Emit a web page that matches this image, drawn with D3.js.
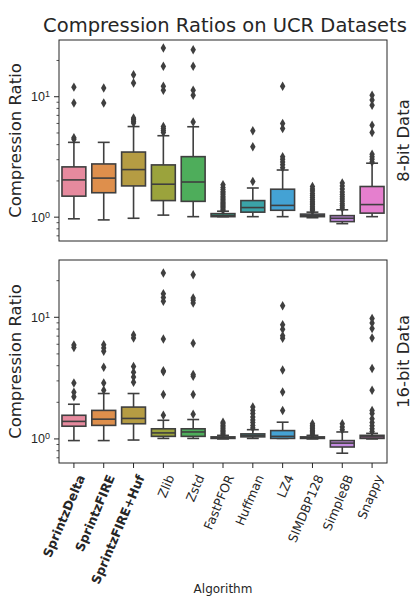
<!DOCTYPE html>
<html>
<head>
<meta charset="utf-8">
<script src="https://cdn.jsdelivr.net/npm/d3@7"></script>
<style>
  body { margin: 0; background: #fff; }
  svg { font-family: "DejaVu Sans", sans-serif; }
</style>
</head>
<body>
<svg id="chart" width="417" height="597"></svg>
<script>
var algorithms = ["SprintzDelta", "SprintzFIRE", "SprintzFIRE+Huf", "Zlib", "Zstd", "FastPFOR",
                  "Huffman", "LZ4", "SIMDBP128", "Simple8B", "Snappy"];
var boldAlgos = ["SprintzDelta", "SprintzFIRE", "SprintzFIRE+Huf"];
var colors = ["#e68a9e", "#de8f4c", "#b59c43", "#9ba33c", "#4ead5b", "#3ca489",
              "#3ba3a7", "#44a2d4", "#8fa0e3", "#c38ae0", "#e57fce"];

// [whisker low, q1, median, q3, whisker high]
var stats8 = [
  [0.96, 1.48, 2.02, 2.59, 4.14],
  [0.94, 1.58, 2.09, 2.74, 4.14],
  [0.97, 1.80, 2.46, 3.44, 5.6],
  [1.03, 1.36, 1.86, 2.69, 4.7],
  [1.0, 1.34, 1.94, 3.15, 5.58],
  [1.0, 1.0, 1.02, 1.06, 1.11],
  [1.0, 1.09, 1.19, 1.36, 1.73],
  [1.0, 1.13, 1.24, 1.69, 2.44],
  [0.98, 1.0, 1.02, 1.05, 1.09],
  [0.875, 0.91, 0.97, 1.02, 1.14],
  [1.0, 1.07, 1.26, 1.78, 2.78]
];
var outliers8 = [
  [4.4, 4.52, 8.8, 11.9],
  [8.8, 11.7],
  [6.0, 6.2, 6.4, 6.6, 12.9, 15.1],
  [5.0, 5.2, 5.4, 5.6, 11.2, 12.1, 17.7, 25.2],
  [6.1, 10.2, 11.2, 17.7, 24.3],
  [1.13, 1.16, 1.19, 1.22, 1.25, 1.28, 1.31, 1.35, 1.39, 1.43, 1.47, 1.52, 1.57, 1.62, 1.68, 1.75, 1.84],
  [1.96, 3.81, 5.17],
  [2.55, 2.7, 2.85, 3.0, 3.15, 5.4, 5.95, 12.1],
  [1.12, 1.15, 1.18, 1.22, 1.26, 1.3, 1.34, 1.39, 1.44, 1.5, 1.56, 1.63, 1.7, 1.78],
  [1.18, 1.23, 1.28, 1.34, 1.4, 1.46, 1.53, 1.6, 1.7, 1.8, 1.9],
  [2.85, 3.0, 3.15, 3.3, 5.0, 5.75, 8.4, 9.3, 10.2]
];

var stats16 = [
  [0.96, 1.26, 1.38, 1.55, 1.91],
  [0.96, 1.28, 1.44, 1.70, 2.34],
  [0.97, 1.32, 1.46, 1.81, 2.34],
  [1.0, 1.04, 1.11, 1.20, 1.41],
  [1.0, 1.04, 1.13, 1.20, 1.43],
  [0.99, 1.0, 1.01, 1.03, 1.06],
  [1.0, 1.03, 1.06, 1.09, 1.18],
  [1.0, 1.0, 1.04, 1.16, 1.36],
  [0.99, 1.0, 1.01, 1.03, 1.06],
  [0.756, 0.85, 0.915, 0.96, 1.13],
  [0.99, 1.0, 1.03, 1.06, 1.1]
];
var outliers16 = [
  [2.2, 2.4, 2.86, 5.6, 5.87],
  [2.49, 2.86, 3.84, 5.2, 5.55, 5.9],
  [2.9, 3.2, 3.5, 3.9, 6.7, 7.1],
  [1.55, 2.3, 3.53, 3.6, 6.58, 13.4, 14.4, 15.5, 22.9],
  [1.58, 2.3, 3.25, 3.35, 6.06, 13.0, 13.7, 14.3, 22.2],
  [1.08, 1.11, 1.14, 1.17, 1.2, 1.24, 1.28, 1.32, 1.36],
  [1.22, 1.28, 1.35, 1.42, 1.5, 1.6, 1.7, 1.81],
  [1.70, 2.41, 3.65, 6.67, 7.0, 7.9, 8.6, 12.3],
  [1.08, 1.11, 1.14, 1.17, 1.2, 1.24, 1.28, 1.32],
  [1.18, 1.24, 1.32],
  [1.14, 1.2, 1.27, 1.35, 1.45, 1.6, 1.7, 2.49, 3.75, 6.7, 8.0, 8.9, 9.7]
];

var panels = [
  {label: "8-bit Data", stats: stats8, outliers: outliers8, top: 40, bottom: 241},
  {label: "16-bit Data", stats: stats16, outliers: outliers16, top: 260, bottom: 463}
];

var svg = d3.select("#chart"),
    left = 59, right = 387,
    ink = "#262626", boxLine = "#3f3f3f";

var x = d3.scaleBand().domain(algorithms).range([left, right]).paddingInner(0).paddingOuter(0);
var boxW = x.bandwidth() * 0.8;

svg.append("text")
  .attr("x", (left + right) / 2 + 2).attr("y", 32)
  .attr("text-anchor", "middle")
  .attr("font-size", 19.5).attr("fill", ink)
  .text("Compression Ratios on UCR Datasets");

var diamond = d3.symbol().type(d3.symbolDiamond).size(26);

panels.forEach(function(p, pi) {
  var y = d3.scaleLog().domain([0.628, 29.3]).range([p.bottom, p.top]);
  var g = svg.append("g");

  // minor ticks
  var minor = [0.7, 0.8, 0.9, 2, 3, 4, 5, 6, 7, 8, 9, 20];
  g.append("g")
    .attr("transform", "translate(" + left + ",0)")
    .call(d3.axisLeft(y).tickValues(minor).tickSize(2.5).tickFormat(""))
    .call(function(a) { a.select(".domain").remove(); a.selectAll("line").attr("stroke", ink).attr("stroke-width", 0.8); });

  // major ticks
  var yAxis = g.append("g")
    .attr("transform", "translate(" + left + ",0)")
    .call(d3.axisLeft(y).tickValues([1, 10]).tickSize(5).tickFormat(""));
  yAxis.select(".domain").remove();
  yAxis.selectAll("line").attr("stroke", ink).attr("stroke-width", 1);
  yAxis.selectAll(".tick").each(function(d) {
    var t = d3.select(this).append("text")
      .attr("x", -9).attr("dy", "0.36em")
      .attr("text-anchor", "end")
      .attr("fill", ink).attr("font-size", 12.5);
    t.append("tspan").text("10");
    t.append("tspan").attr("dy", "-0.45em").attr("font-size", 9).text(d === 1 ? "0" : "1");
  });

  // boxes
  var boxes = g.selectAll(".box").data(algorithms).enter().append("g").attr("class", "box");
  boxes.each(function(a, i) {
    var s = p.stats[i], cx = x(a) + x.bandwidth() / 2, b = d3.select(this);
    b.append("line").attr("x1", cx).attr("x2", cx).attr("y1", y(s[0])).attr("y2", y(s[1]));
    b.append("line").attr("x1", cx).attr("x2", cx).attr("y1", y(s[3])).attr("y2", y(s[4]));
    b.append("line").attr("x1", cx - boxW / 4).attr("x2", cx + boxW / 4).attr("y1", y(s[0])).attr("y2", y(s[0]));
    b.append("line").attr("x1", cx - boxW / 4).attr("x2", cx + boxW / 4).attr("y1", y(s[4])).attr("y2", y(s[4]));
    b.append("rect")
      .attr("x", cx - boxW / 2).attr("width", boxW)
      .attr("y", y(s[3])).attr("height", Math.max(1, y(s[1]) - y(s[3])))
      .attr("fill", colors[i]);
    b.append("line").attr("x1", cx - boxW / 2).attr("x2", cx + boxW / 2).attr("y1", y(s[2])).attr("y2", y(s[2]));
    b.selectAll("line, rect").attr("stroke", boxLine).attr("stroke-width", 1.6);
    b.selectAll(".out").data(p.outliers[i]).enter().append("path")
      .attr("class", "out")
      .attr("d", diamond)
      .attr("transform", function(v) { return "translate(" + cx + "," + y(v) + ")"; })
      .attr("fill", boxLine);
  });

  // frame
  g.append("rect")
    .attr("x", left).attr("y", p.top)
    .attr("width", right - left).attr("height", p.bottom - p.top)
    .attr("fill", "none").attr("stroke", ink).attr("stroke-width", 1);

  g.append("text")
    .attr("transform", "translate(21," + (p.top + p.bottom) / 2 + ") rotate(-90)")
    .attr("text-anchor", "middle").attr("font-size", 16.5).attr("fill", ink)
    .text("Compression Ratio");

  g.append("text")
    .attr("transform", "translate(409," + (p.top + p.bottom) / 2 + ") rotate(-90)")
    .attr("text-anchor", "middle").attr("font-size", 16.5).attr("fill", ink)
    .text(p.label);

  if (pi === 1) {
    var xAxis = g.append("g")
      .attr("transform", "translate(0," + p.bottom + ")")
      .call(d3.axisBottom(x).tickSize(5).tickSizeOuter(0));
    xAxis.select(".domain").remove();
    xAxis.selectAll("line").attr("stroke", ink);
    xAxis.selectAll("text")
      .attr("fill", ink).attr("font-size", 12.5)
      .attr("font-family", "DejaVu Sans, sans-serif")
      .attr("font-weight", function(d) { return boldAlgos.indexOf(d) >= 0 ? "bold" : "normal"; })
      .attr("text-anchor", "end")
      .attr("dx", 0).attr("dy", 0)
      .attr("transform", "translate(4,11) rotate(-67)");
  }
});

svg.append("text")
  .attr("x", (left + right) / 2).attr("y", 593)
  .attr("text-anchor", "middle").attr("font-size", 12).attr("fill", ink)
  .text("Algorithm");
</script>
</body>
</html>
